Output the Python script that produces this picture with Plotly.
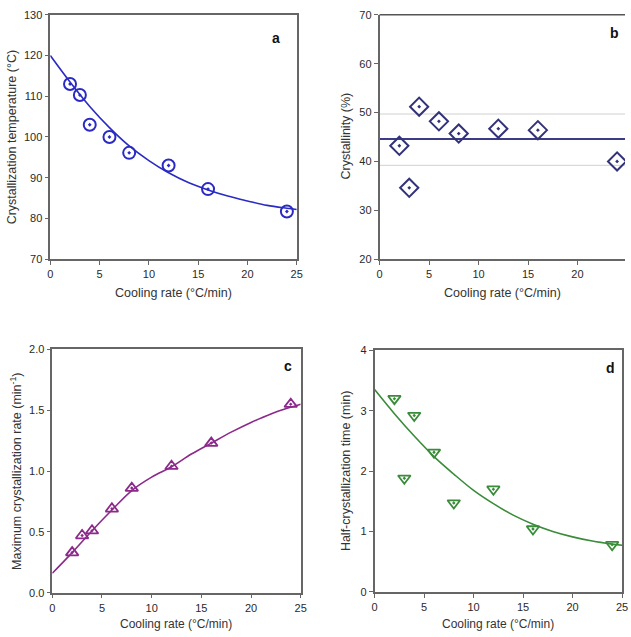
import plotly.graph_objects as go

# ---------------- data ----------------
cooling_rate = [2, 3, 4, 6, 8, 12, 16, 24]

# (a) crystallization temperature (°C)
tc_values = [113.0, 110.3, 103.0, 100.0, 96.1, 93.0, 87.2, 81.7]
tc_fit_x = [0, 2, 4, 6, 8, 10, 12, 14, 16, 18, 20, 22, 24, 25]
tc_fit_y = [120.0, 113.5, 107.5, 102.3, 97.8, 94.2, 91.2, 88.8, 87.0, 85.5, 84.3, 83.2, 82.5, 82.2]

# (b) crystallinity (%)
xc_values = [43.2, 34.6, 51.2, 48.2, 45.7, 46.7, 46.4, 40.0]
xc_mean = 44.6
xc_upper = 49.7
xc_lower = 39.2
line_x = [0, 25]

# (c) maximum crystallization rate (min^-1)
rate_values = [0.33, 0.47, 0.51, 0.69, 0.86, 1.04, 1.23, 1.55]
rate_fit_x = [0, 2, 4, 6, 8, 10, 12, 14, 16, 18, 20, 22, 24, 25]
rate_fit_y = [0.16, 0.33, 0.51, 0.68, 0.84, 0.95, 1.035, 1.14, 1.23, 1.32, 1.40, 1.47, 1.525, 1.55]

# (d) half-crystallization time (min)
thalf_values = [3.20, 1.88, 2.92, 2.31, 1.47, 1.70, 1.04, 0.78]
thalf_fit_x = [0, 2, 4, 6, 8, 10, 12, 14, 16, 18, 20, 22, 24, 25]
thalf_fit_y = [3.35, 2.95, 2.58, 2.24, 1.95, 1.68, 1.46, 1.27, 1.12, 1.00, 0.91, 0.84, 0.79, 0.77]

x_ticks = [0, 5, 10, 15, 20, 25]

# ---------------- styles ----------------
W, H = 631, 637
FONT = "Liberation Sans, Arial, sans-serif"
BLUE = "#2b2bc4"
NAVY = "#33337a"
PURPLE = "#8b2a8b"
GREEN = "#3a8c3a"
AX = "#666666"

fig = go.Figure()

# (a)
fig.add_trace(go.Scatter(x=tc_fit_x, y=tc_fit_y, mode="lines", line=dict(color=BLUE, width=1.6, shape="spline"),
                         xaxis="x", yaxis="y", showlegend=False))
fig.add_trace(go.Scatter(x=cooling_rate, y=tc_values, mode="markers",
                         marker=dict(symbol="circle-open-dot", size=12, color=BLUE, line=dict(width=2, color=BLUE)),
                         xaxis="x", yaxis="y", showlegend=False))

# (b)
for val, col, wd in [(xc_upper, "#d0d0d0", 1), (xc_lower, "#d0d0d0", 1), (xc_mean, "#3c3c86", 2)]:
    fig.add_trace(go.Scatter(x=line_x, y=[val, val], mode="lines", line=dict(color=col, width=wd),
                             xaxis="x2", yaxis="y2", showlegend=False))
fig.add_trace(go.Scatter(x=cooling_rate, y=xc_values, mode="markers",
                         marker=dict(symbol="diamond-open-dot", size=14, color=NAVY, line=dict(width=2, color=NAVY)),
                         xaxis="x2", yaxis="y2", showlegend=False))

# (c)
fig.add_trace(go.Scatter(x=rate_fit_x, y=rate_fit_y, mode="lines", line=dict(color=PURPLE, width=1.6, shape="spline"),
                         xaxis="x3", yaxis="y3", showlegend=False))
fig.add_trace(go.Scatter(x=cooling_rate, y=rate_values, mode="markers",
                         marker=dict(symbol="triangle-up-open-dot", size=11, color=PURPLE, line=dict(width=1.8, color=PURPLE)),
                         xaxis="x3", yaxis="y3", showlegend=False))

# (d)
fig.add_trace(go.Scatter(x=thalf_fit_x, y=thalf_fit_y, mode="lines", line=dict(color=GREEN, width=1.6, shape="spline"),
                         xaxis="x4", yaxis="y4", showlegend=False))
fig.add_trace(go.Scatter(x=cooling_rate, y=thalf_values, mode="markers",
                         marker=dict(symbol="triangle-down-open-dot", size=11, color=GREEN, line=dict(width=1.8, color=GREEN)),
                         xaxis="x4", yaxis="y4", showlegend=False))


def px_x(p):
    return p / W


def px_y(p):
    return 1 - p / H


def axis(domain, rng, ticks, anchor, fmt=None, mirror=True):
    d = dict(domain=domain, range=rng, tickvals=ticks, anchor=anchor, showgrid=False, zeroline=False,
             showline=True, linecolor=AX, linewidth=1.5, mirror=mirror, ticks="outside", ticklen=4,
             tickcolor=AX, tickwidth=1.2, tickfont=dict(family=FONT, size=11, color="#2a2a2a"))
    if fmt:
        d["tickformat"] = fmt
    return d


layout = dict(
    width=W, height=H, margin=dict(l=0, r=0, t=0, b=0), paper_bgcolor="white", plot_bgcolor="white",
    font=dict(family=FONT),
    xaxis=axis([px_x(48), px_x(298)], [0, 25], x_ticks, "y"),
    yaxis=axis([px_y(258), px_y(9)], [70, 130], [70, 80, 90, 100, 110, 120, 130], "x"),
    xaxis2=axis([px_x(382), 1.0], [0, 25 * (W - 382) / 251], x_ticks, "y2", mirror=False),
    yaxis2=axis([px_y(258), px_y(9)], [20, 70], [20, 30, 40, 50, 60, 70], "x2", mirror=False),
    xaxis3=axis([px_x(50), px_x(302)], [0, 25], x_ticks, "y3"),
    yaxis3=axis([px_y(598), px_y(350)], [0, 2.0], [0, 0.5, 1.0, 1.5, 2.0], "x3", fmt=".1f"),
    xaxis4=axis([px_x(377), px_x(628)], [0, 25], x_ticks, "y4"),
    yaxis4=axis([px_y(597), px_y(351)], [0, 4], [0, 1, 2, 3, 4], "x4"),
)
fig.update_layout(**layout)

# top border for panel b
fig.add_shape(type="line", xref="x2 domain", yref="y2 domain", x0=0, x1=1, y0=1, y1=1,
              line=dict(color="#555555", width=1.5))

ann = []
TF = dict(family=FONT, size=12.5, color="#333333")


def title(text, x, y, angle=0, size=12.5):
    f = dict(TF)
    f["size"] = size
    ann.append(dict(text=text, x=px_x(x), y=px_y(y), xref="paper", yref="paper", showarrow=False,
                    textangle=angle, font=f, xanchor="center", yanchor="middle"))


title("Cooling rate (°C/min)", 173, 293)
title("Cooling rate (°C/min)", 507, 293)
title("Cooling rate (°C/min)", 176, 630, size=12)
title("Cooling rate (°C/min)", 502, 630, size=12)
title("Crystallization temperature (°C)", 10, 133, -90)
title("Crystallinity (%)", 348, 133, -90)
title("Maximum crystallization rate (min<sup>-1</sup>)", 13, 474, -90)
title("Half-crystallization time (min)", 348, 474, -90)

for lab, x, y in [("a", 277, 33), ("b", 620, 28), ("c", 289, 367), ("d", 616, 369)]:
    ann.append(dict(text="<b>%s</b>" % lab, x=px_x(x), y=px_y(y), xref="paper", yref="paper", showarrow=False,
                    font=dict(family=FONT, size=14, color="#111111"), xanchor="center", yanchor="middle"))

fig.update_layout(annotations=ann)
fig.write_html("out.html")
